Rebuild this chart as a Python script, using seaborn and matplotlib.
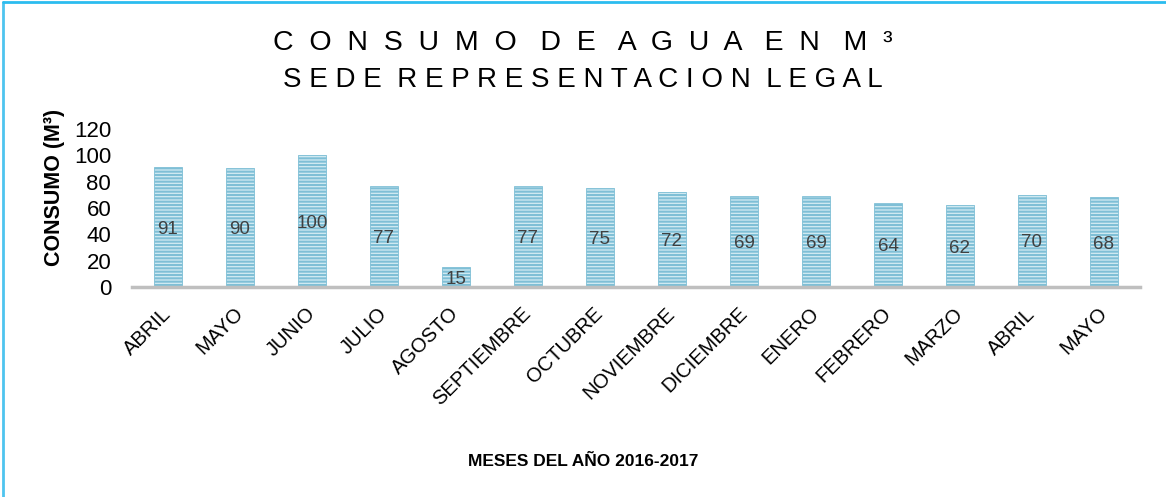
import matplotlib
matplotlib.use("Agg")
import matplotlib.pyplot as plt
import seaborn as sns
import pandas as pd
from matplotlib.lines import Line2D

meses = ['ABRIL', 'MAYO', 'JUNIO', 'JULIO', 'AGOSTO', 'SEPTIEMBRE', 'OCTUBRE',
         'NOVIEMBRE', 'DICIEMBRE', 'ENERO', 'FEBRERO', 'MARZO', 'ABRIL', 'MAYO']
consumo = [91, 90, 100, 77, 15, 77, 75, 72, 69, 69, 64, 62, 70, 68]
yticks = [0, 20, 40, 60, 80, 100, 120]

titulo1 = "CONSUMO DE AGUA EN M³"
titulo2 = "SEDE REPRESENTACION LEGAL"

df = pd.DataFrame({'pos': [str(i) for i in range(len(meses))], 'consumo': consumo})

sns.set_style("white")
plt.rcParams['font.family'] = ['Liberation Sans', 'DejaVu Sans']
plt.rcParams['text.color'] = 'black'
plt.rcParams['axes.labelcolor'] = 'black'
plt.rcParams['xtick.color'] = 'black'
plt.rcParams['ytick.color'] = 'black'
plt.rcParams['hatch.linewidth'] = 1.5
plt.rcParams['hatch.color'] = '#4a9fc0'

fig = plt.figure(figsize=(11.66, 4.97), dpi=100)
ax = fig.add_axes([0.1132, 0.4225, 0.8645, 0.318])

sns.barplot(data=df, x='pos', y='consumo', color='#d3ebf3', width=0.39,
            saturation=1, ax=ax)
for p in ax.patches:
    p.set_hatch('-----')
    p.set_edgecolor('#7fbfd6')
    p.set_linewidth(0.6)

for i, v in enumerate(consumo):
    ax.text(i, v / 2 - 1.5, str(v), ha='center', va='center', fontsize=13.5,
            color='#404040')

ax.set_ylim(0, 120)
ax.set_xlim(-0.5, len(meses) - 0.5)
ax.set_yticks(yticks)
ax.set_yticklabels([str(t) for t in yticks], fontsize=16)
ax.set_xticks(range(len(meses)))
ax.set_xticklabels(meses, rotation=45, ha='right', va='center',
                   rotation_mode='anchor', fontsize=14.5)
ax.tick_params(axis='x', length=0, pad=17)
ax.tick_params(axis='y', length=0, pad=15)

for s in ['top', 'right', 'left']:
    ax.spines[s].set_visible(False)
ax.spines['bottom'].set_color('#bfbfbf')
ax.spines['bottom'].set_linewidth(2.5)

ax.set_xlabel('')
ax.set_ylabel('CONSUMO (M³)', fontsize=15.5, fontweight='bold')
ax.yaxis.set_label_coords(-0.066, 0.63)


def espaciado(t, letra, palabra):
    return palabra.join(letra.join(w) for w in t.split(' '))


fig.text(0.5, 0.913, espaciado(titulo1, '  ', '   '), ha='center',
         va='center', fontsize=20.5)
fig.text(0.5, 0.84, espaciado(titulo2, ' ', '  '), ha='center',
         va='center', fontsize=20)
fig.text(0.5, 0.071, 'MESES DEL AÑO 2016-2017', ha='center', va='center',
         fontsize=12.5, fontweight='bold')

fig.add_artist(Line2D([0.0025, 0.0025], [0, 0.996], transform=fig.transFigure,
                      color='#4ec4ef', linewidth=2))
fig.add_artist(Line2D([0.0025, 1], [0.996, 0.996], transform=fig.transFigure,
                      color='#2bbcef', linewidth=2))

fig.savefig('out.png', dpi=100)
